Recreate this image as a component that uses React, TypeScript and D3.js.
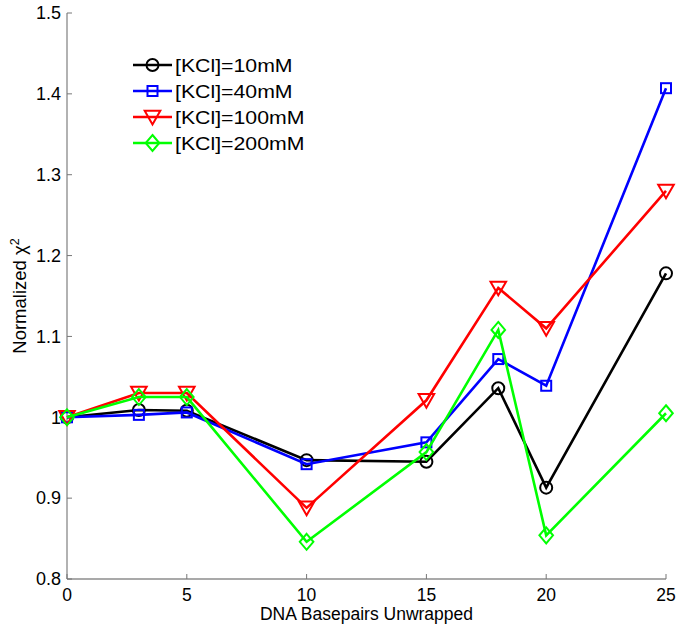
import React from "react";
import * as d3 from "d3";

const xValues = [0, 3, 5, 10, 15, 18, 20, 25];
const kcl10 = [1.0, 1.009, 1.008, 0.947, 0.945, 1.036, 0.913, 1.178];
const kcl40 = [1.0, 1.003, 1.006, 0.942, 0.969, 1.072, 1.039, 1.407];
const kcl100 = [1.0, 1.030, 1.030, 0.888, 1.021, 1.160, 1.110, 1.280];
const kcl200 = [1.0, 1.025, 1.025, 0.846, 0.957, 1.108, 0.854, 1.005];
const seriesNames = ["[KCl]=10mM", "[KCl]=40mM", "[KCl]=100mM", "[KCl]=200mM"];
const seriesColors = ["#000000", "#0000ff", "#ff0000", "#00ff00"];
const seriesMarkers = ["circle", "square", "triangle", "diamond"];
const xTicks = [0, 5, 10, 15, 20, 25];
const yTicks = [0.8, 0.9, 1.0, 1.1, 1.2, 1.3, 1.4, 1.5];

const W = 683;
const H = 630;
const FONT = "'Liberation Sans', Arial, Helvetica, sans-serif";

function Marker({ type, x, y, color }: { type: string; x: number; y: number; color: string }) {
  const sw = 2;
  if (type === "circle") return <circle cx={x} cy={y} r={6} fill="none" stroke={color} strokeWidth={sw} />;
  if (type === "square") return <rect x={x - 5} y={y - 5} width={10} height={10} fill="none" stroke={color} strokeWidth={sw} />;
  if (type === "triangle") {
    const s = 7.8;
    return <path d={`M${x - s},${y - s * 0.8}L${x + s},${y - s * 0.8}L${x},${y + s * 0.95}Z`} fill="none" stroke={color} strokeWidth={sw} />;
  }
  const s = 8;
  return <path d={`M${x},${y - s}L${x + s * 0.85},${y}L${x},${y + s}L${x - s * 0.85},${y}Z`} fill="none" stroke={color} strokeWidth={sw} />;
}

export default function App() {
  const x = d3.scaleLinear().domain([0, 25]).range([67, 666]);
  const y = d3.scaleLinear().domain([0.8, 1.5]).range([579, 13]);
  const all = [kcl10, kcl40, kcl100, kcl200];
  const line = d3
    .line<number>()
    .x((_, i) => x(xValues[i]))
    .y((d) => y(d));

  const legendX = 133;
  const legendY0 = 65;
  const legendStep = 26;

  return (
    <svg width={W} height={H} style={{ position: "absolute", left: 0, top: 0, background: "#fff" }} fontFamily={FONT}>
      <rect x={0} y={0} width={W} height={H} fill="#fff" />
      {/* axes */}
      <line x1={x(0)} x2={x(0)} y1={y(0.8)} y2={y(1.5)} stroke="#999" strokeWidth={1.5} />
      <line x1={x(0)} x2={x(25)} y1={y(0.8)} y2={y(0.8)} stroke="#555" strokeWidth={1.2} />
      {yTicks.map((t) => (
        <g key={"y" + t}>
          <line x1={x(0)} x2={x(0) + 5} y1={y(t)} y2={y(t)} stroke="#777" strokeWidth={1} />
          <text x={61} y={y(t)} dy="0.35em" textAnchor="end" fontSize={18} fill="#000">
            {d3.format("")(+t.toFixed(1))}
          </text>
        </g>
      ))}
      {xTicks.map((t) => (
        <g key={"x" + t}>
          <line x1={x(t)} x2={x(t)} y1={y(0.8)} y2={y(0.8) - 5} stroke="#777" strokeWidth={1} />
          <text x={x(t)} y={601} textAnchor="middle" fontSize={17.5} fill="#000">
            {t}
          </text>
        </g>
      ))}
      <text x={(x(0) + x(25)) / 2} y={620} textAnchor="middle" fontSize={17.5} fill="#000">
        DNA Basepairs Unwrapped
      </text>
      <text transform={`translate(26,${(y(0.8) + y(1.5)) / 2}) rotate(-90)`} textAnchor="middle" fontSize={18.5} fill="#000">
        Normalized χ
        <tspan dy={-7} fontSize={12.5}>2</tspan>
      </text>
      {/* series */}
      {all.map((vals, si) => (
        <g key={"s" + si}>
          <path d={line(vals) || ""} fill="none" stroke={seriesColors[si]} strokeWidth={2.6} strokeLinejoin="miter" />
          {vals.map((v, i) => (
            <Marker key={i} type={seriesMarkers[si]} x={x(xValues[i])} y={y(v)} color={seriesColors[si]} />
          ))}
        </g>
      ))}
      {/* legend */}
      {seriesNames.map((name, i) => {
        const ly = legendY0 + i * legendStep;
        return (
          <g key={"l" + i}>
            <line x1={legendX} x2={legendX + 39} y1={ly} y2={ly} stroke={seriesColors[i]} strokeWidth={2.6} />
            <Marker type={seriesMarkers[i]} x={legendX + 19.5} y={ly} color={seriesColors[i]} />
            <text transform={`translate(${legendX + 42},${ly}) scale(1.15,1)`} dy="0.36em" fontSize={18.5} fill="#000">
              {name}
            </text>
          </g>
        );
      })}
    </svg>
  );
}
